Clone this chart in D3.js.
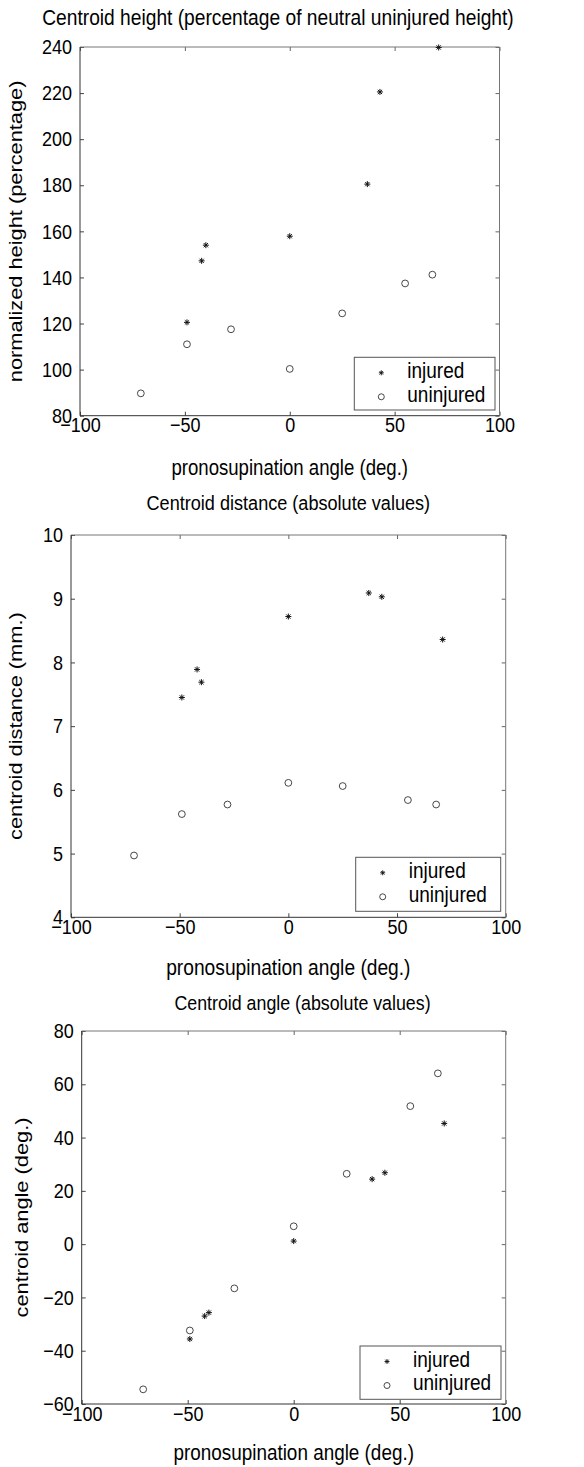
<!DOCTYPE html>
<html>
<head>
<meta charset="utf-8">
<script src="https://cdn.jsdelivr.net/npm/d3@7"></script>
<style>
  body { margin: 0; background: #fff; }
  text { font-family: "Liberation Sans", Arial, sans-serif; fill: #000; }
</style>
</head>
<body>
<div id="chart"></div>
<script>
// data
var injuredAngle = [-49, -42, -40, 0, 37, 43, 71];
var uninjuredAngle = [-71, -49, -28, 0, 25, 55, 68];

var heightInjured = [120.5, 147.2, 154.0, 157.9, 180.5, 220.5, 239.8];
var heightUninjured = [89.7, 111.0, 117.5, 100.3, 124.4, 137.4, 141.2];

var distInjured = [7.45, 7.89, 7.69, 8.72, 9.09, 9.03, 8.36];
var distUninjured = [4.97, 5.62, 5.77, 6.11, 6.06, 5.84, 5.77];

var angleInjured = [-35.6, -27.0, -25.7, 1.15, 24.4, 26.8, 45.3];
var angleUninjured = [-54.5, -32.4, -16.6, 6.7, 26.4, 51.8, 64.1];

var xTicks = [-100, -50, 0, 50, 100];
var heightTicks = [80, 100, 120, 140, 160, 180, 200, 220, 240];
var distTicks = [4, 5, 6, 7, 8, 9, 10];
var angleTicks = [-60, -40, -20, 0, 20, 40, 60, 80];

var titles = ["Centroid height (percentage of neutral uninjured height)",
  "Centroid distance (absolute values)",
  "Centroid angle (absolute values)"];
var yLabels = ["normalized height (percentage)", "centroid distance (mm.)", "centroid angle (deg.)"];
var xLabel = "pronosupination angle (deg.)";
var legendNames = ["injured", "uninjured"];

// the original figure is a bit taller than wide, so text is stretched vertically
var sy = 1.16;

var svg = d3.select("#chart").append("svg")
  .attr("width", 584)
  .attr("height", 1467);

// panel boxes (plot area, pixels)
var panels = [
  {left: 80, right: 499.5, top: 47, bottom: 415.7, yDomain: [80, 240], yTicks: heightTicks,
   inj: heightInjured, uninj: heightUninjured, titleX: 278, titleY: 25, titleSize: 19.2,
   xLabY: 475, xLabSize: 18.6, yLabX: 22,
   leg: {x: 354.3, y: 357.3, w: 140.7, h: 52.7}},
  {left: 71, right: 505.7, top: 535, bottom: 917.3, yDomain: [4, 10], yTicks: distTicks,
   inj: distInjured, uninj: distUninjured, titleX: 288.3, titleY: 510, titleSize: 18.1,
   xLabY: 975, xLabSize: 19.2, yLabX: 22,
   leg: {x: 355.7, y: 857.3, w: 145, h: 54}},
  {left: 81.7, right: 505.7, top: 1031, bottom: 1404, yDomain: [-60, 80], yTicks: angleTicks,
   inj: angleInjured, uninj: angleUninjured, titleX: 302.5, titleY: 1010, titleSize: 17.8,
   xLabY: 1460, xLabSize: 18.9, yLabX: 28,
   leg: {x: 360, y: 1346, w: 141, h: 53.3}}
];

function asterisk(r) {
  var d = r * 0.7071;
  return "M" + (-r) + ",0L" + r + ",0M0," + (-r) + "L0," + r +
    "M" + (-d) + "," + (-d) + "L" + d + "," + d +
    "M" + (-d) + "," + d + "L" + d + "," + (-d);
}

function minus(d) { return d < 0 ? "\u2212" + Math.abs(d) : d; }

panels.forEach(function(p, i) {
  var x = d3.scaleLinear().domain([-100, 100]).range([p.left, p.right]);
  var y = d3.scaleLinear().domain(p.yDomain).range([p.bottom, p.top]);
  var g = svg.append("g");

  // inward ticks on all four sides
  var tl = 4;
  g.append("g")
    .attr("transform", "translate(0," + p.bottom + ")")
    .call(d3.axisBottom(x).tickValues(xTicks).tickSize(-tl).tickPadding(2).tickFormat(minus))
    .call(function(a) {
      a.select(".domain").remove();
      a.selectAll("line").attr("stroke", "#444");
      a.selectAll("text").attr("font-size", 18).attr("dy", "0.71em").attr("y", 1.5)
        .attr("transform", "scale(1," + sy + ")");
    });
  g.append("g")
    .attr("transform", "translate(0," + p.top + ")")
    .call(d3.axisTop(x).tickValues(xTicks).tickSize(-tl).tickFormat(""))
    .call(function(a) { a.select(".domain").remove(); a.selectAll("line").attr("stroke", "#666"); });
  g.append("g")
    .attr("transform", "translate(" + p.left + ",0)")
    .call(d3.axisLeft(y).tickValues(p.yTicks).tickSize(-tl).tickPadding(8).tickFormat(minus))
    .call(function(a) {
      a.select(".domain").remove();
      a.selectAll("line").attr("stroke", "#444");
      a.selectAll("text").attr("font-size", 18).attr("transform", "scale(1," + sy + ")");
    });
  g.append("g")
    .attr("transform", "translate(" + p.right + ",0)")
    .call(d3.axisRight(y).tickValues(p.yTicks).tickSize(-tl).tickFormat(""))
    .call(function(a) { a.select(".domain").remove(); a.selectAll("line").attr("stroke", "#666"); });

  // frame: darker left/bottom, lighter top/right
  g.append("path")
    .attr("d", "M" + p.left + "," + p.top + "L" + p.right + "," + p.top + "L" + p.right + "," + p.bottom)
    .attr("fill", "none").attr("stroke", "#777");
  g.append("path")
    .attr("d", "M" + p.left + "," + p.top + "L" + p.left + "," + p.bottom + "L" + p.right + "," + p.bottom)
    .attr("fill", "none").attr("stroke", "#333");

  // titles and labels
  g.append("text")
    .attr("transform", "translate(" + p.titleX + "," + p.titleY + ") scale(1," + sy + ")")
    .attr("text-anchor", "middle").attr("font-size", p.titleSize)
    .text(titles[i]);
  g.append("text")
    .attr("transform", "translate(" + (p.left + p.right) / 2 + "," + p.xLabY + ") scale(1," + sy + ")")
    .attr("text-anchor", "middle").attr("font-size", p.xLabSize)
    .text(xLabel);
  g.append("text")
    .attr("transform", "translate(" + p.yLabX + "," + (p.top + p.bottom) / 2 + ") scale(1," + sy + ") rotate(-90)")
    .attr("text-anchor", "middle").attr("font-size", 18.8)
    .text(yLabels[i]);

  // markers
  g.selectAll(".unin")
    .data(uninjuredAngle.map(function(a, k) { return [a, p.uninj[k]]; }))
    .enter().append("circle")
      .attr("cx", function(d) { return x(d[0]); })
      .attr("cy", function(d) { return y(d[1]); })
      .attr("r", 3.4)
      .attr("fill", "none").attr("stroke", "#333").attr("stroke-width", 0.9);
  g.selectAll(".inj")
    .data(injuredAngle.map(function(a, k) { return [a, p.inj[k]]; }))
    .enter().append("path")
      .attr("transform", function(d) { return "translate(" + x(d[0]) + "," + y(d[1]) + ")"; })
      .attr("d", asterisk(3))
      .attr("fill", "none").attr("stroke", "#111").attr("stroke-width", 1);

  // legend
  var lg = g.append("g").attr("transform", "translate(" + p.leg.x + "," + p.leg.y + ")");
  lg.append("rect")
    .attr("width", p.leg.w).attr("height", p.leg.h)
    .attr("fill", "#fff").attr("stroke", "#555").attr("stroke-width", 1);
  lg.append("path")
    .attr("transform", "translate(27,15.5)")
    .attr("d", asterisk(2.5))
    .attr("fill", "none").attr("stroke", "#111").attr("stroke-width", 0.9);
  lg.append("circle")
    .attr("cx", 27).attr("cy", 39.5).attr("r", 3)
    .attr("fill", "none").attr("stroke", "#333").attr("stroke-width", 0.9);
  lg.selectAll(".lt")
    .data(legendNames)
    .enter().append("text")
      .attr("transform", function(d, k) { return "translate(53," + (20.7 + k * 23.7) + ") scale(1," + sy + ")"; })
      .attr("font-size", 19)
      .text(function(d) { return d; });
});
</script>
</body>
</html>
